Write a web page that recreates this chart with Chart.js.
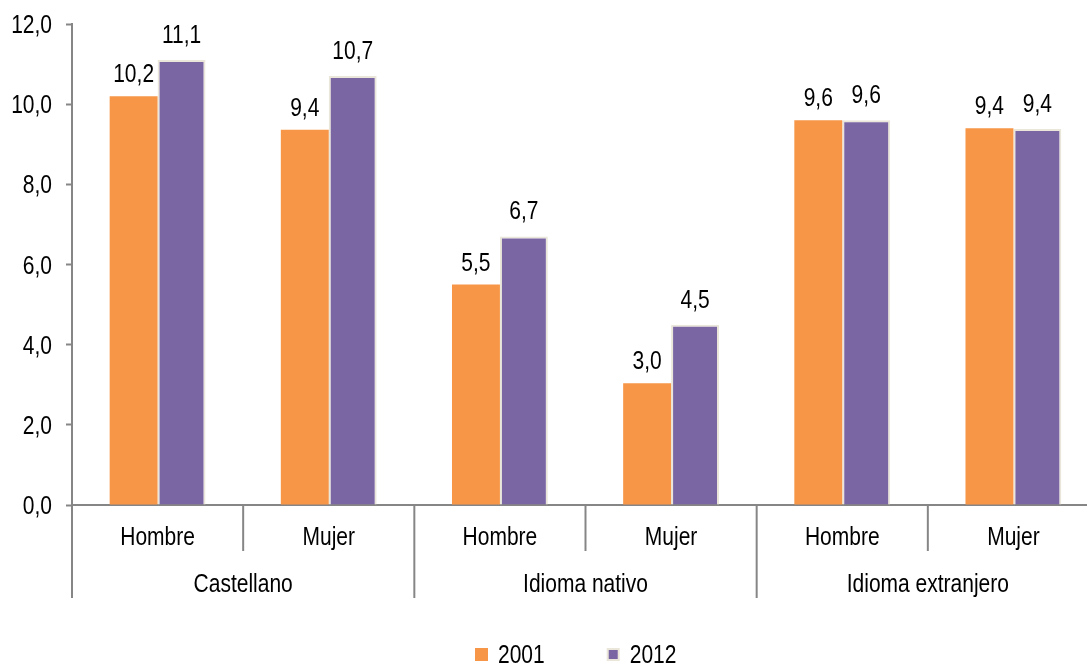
<!DOCTYPE html>
<html>
<head>
<meta charset="utf-8">
<script src="https://cdn.jsdelivr.net/npm/chart.js@4/dist/chart.umd.min.js"></script>
<style>
	html, body { margin: 0; padding: 0; background: #fff; overflow: hidden; }
	#wrap { position: relative; width: 1100px; height: 666px; }
</style>
</head>
<body>
<div id="wrap"><canvas id="lenguaChart"></canvas></div>
<script>
const categories = ['Hombre', 'Mujer', 'Hombre', 'Mujer', 'Hombre', 'Mujer'];
const groups = ['Castellano', 'Idioma nativo', 'Idioma extranjero'];
const seriesNames = ['2001', '2012'];
const values2001 = [10.2, 9.36, 5.5, 3.04, 9.6, 9.4];
const values2012 = [11.1, 10.7, 6.7, 4.5, 9.6, 9.38];
const yTicks = [0, 2, 4, 6, 8, 10, 12];

const FONT = "'Liberation Sans', Arial, sans-serif";
const NARROW = 0.84; // squeeze to look like Arial Narrow
const AXIS = '#868686';

let fmt = function (v) {
	return v.toFixed(1).replace('.', ',');
};

let narrowText = function (ctx, text, x, y) {
	ctx.save();
	ctx.translate(x, y);
	ctx.scale(NARROW, 1);
	ctx.fillText(text, 0, 0);
	ctx.restore();
};

// labels on top, y tick labels, two-level category axis and legend
let extras = {
	id: 'extras',
	afterDatasetsDraw: function (chart) {
		let ctx = chart.ctx;
		let x = chart.scales.x;
		let y = chart.scales.y;
		let area = chart.chartArea;
		let half = (x.getPixelForValue(1) - x.getPixelForValue(0)) / 2;

		ctx.save();
		ctx.fillStyle = '#000';
		ctx.font = '25px ' + FONT;
		ctx.textAlign = 'center';
		ctx.textBaseline = 'alphabetic';
		chart.data.datasets.forEach(function (ds, d) {
			let gap = d === 0 ? 14 : 17;
			chart.getDatasetMeta(d).data.forEach(function (bar, i) {
				narrowText(ctx, fmt(ds.data[i]), bar.x, bar.y - gap);
			});
		});

		ctx.textAlign = 'right';
		y.ticks.forEach(function (t) {
			narrowText(ctx, fmt(t.value), area.left - 20, y.getPixelForValue(t.value) + 9);
		});
		ctx.textAlign = 'center';

		// separators below axis
		ctx.strokeStyle = AXIS;
		ctx.lineWidth = 2;
		for (let i = 0; i <= categories.length; i++) {
			let px = (i < categories.length ? x.getPixelForValue(i) - half : x.getPixelForValue(i - 1) + half);
			let len = (i % 2 === 0) ? 93 : 46;
			ctx.beginPath();
			ctx.moveTo(px, area.bottom);
			ctx.lineTo(px, area.bottom + len);
			ctx.stroke();
		}

		categories.forEach(function (c, i) {
			narrowText(ctx, c, x.getPixelForValue(i), area.bottom + 40);
		});
		groups.forEach(function (g, k) {
			let cx = (x.getPixelForValue(k * 2) + x.getPixelForValue(k * 2 + 1)) / 2;
			narrowText(ctx, g, cx, area.bottom + 87);
		});

		// legend
		ctx.textAlign = 'left';
		let lx = 475;
		chart.data.datasets.forEach(function (ds, d) {
			ctx.fillStyle = ds.borderWidth ? ds.borderColor : ds.backgroundColor;
			ctx.fillRect(lx, 648, 13, 13);
			if (ds.borderWidth) {
				ctx.fillStyle = ds.backgroundColor;
				ctx.fillRect(lx + 2, 650, 9, 9);
			}
			ctx.fillStyle = '#000';
			narrowText(ctx, ds.label, lx + 23, 663);
			lx += 23 + ctx.measureText(ds.label).width * NARROW + 62;
		});
		ctx.restore();
	}
};

let chart = new Chart('lenguaChart', {
	type: 'bar',
	data: {
		labels: categories,
		datasets: [{
			label: seriesNames[0],
			data: values2001,
			backgroundColor: '#F79646',
			borderColor: '#F9A76D',
			borderWidth: 0
		}, {
			label: seriesNames[1],
			data: values2012,
			backgroundColor: '#7B66A4',
			borderColor: '#EAE7DA',
			borderWidth: 2
		}]
	},
	options: {
		responsive: true,
		maintainAspectRatio: false,
		animation: false,
		layout: { padding: { top: 24, right: 1, left: 0, bottom: 0 } },
		plugins: {
			legend: { display: false },
			tooltip: { enabled: false }
		},
		datasets: {
			bar: { categoryPercentage: 0.56, barPercentage: 1 }
		},
		scales: {
			x: {
				grid: { display: false },
				border: { display: true, color: AXIS, width: 2 },
				ticks: { display: false },
				afterFit: function (scale) { scale.height = 161; }
			},
			y: {
				min: 0,
				max: 12,
				afterBuildTicks: function (scale) {
					scale.ticks = yTicks.map(function (v) { return { value: v }; });
				},
				grid: {
					drawOnChartArea: false,
					tickLength: 6,
					tickColor: AXIS,
					tickWidth: 2
				},
				border: { display: true, color: AXIS, width: 2 },
				ticks: { display: false },
				afterFit: function (scale) { scale.width = 72; }
			}
		}
	},
	plugins: [extras]
});
</script>
</body>
</html>
